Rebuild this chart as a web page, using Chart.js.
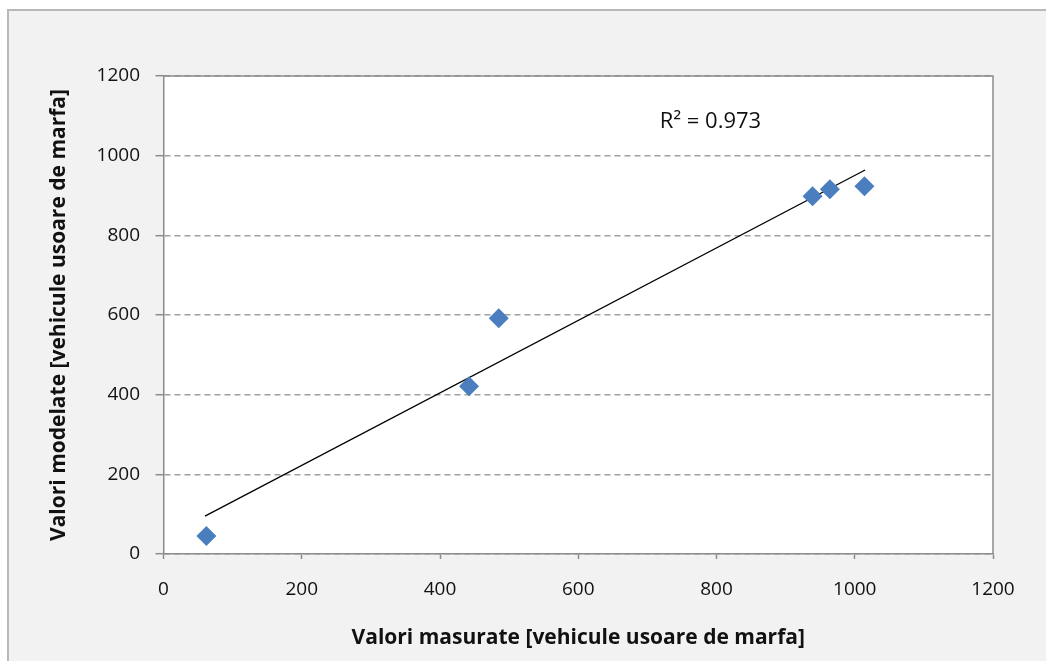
<!DOCTYPE html>
<html>
<head>
<meta charset="utf-8">
<script src="https://cdn.jsdelivr.net/npm/chart.js@4/dist/chart.umd.min.js"></script>
<style>
  html, body { margin: 0; padding: 0; background: #ffffff; }
  #wrap { width: 1046px; height: 661px; position: relative; }
</style>
</head>
<body>
<div id="wrap"><canvas id="c" width="1046" height="661"></canvas></div>
<script>
// ---- Data ----
const measuredX = [62, 442, 485, 939, 964, 1014];
const modelledY = [45, 421, 592, 898, 916, 923];
const trendX = [60, 1015];
const trendY = [95, 964];
const axisMin = 0;
const axisMax = 1200;
const axisStep = 200;
const xTitle = 'Valori masurate [vehicule usoare de marfa]';
const yTitle = 'Valori modelate [vehicule usoare de marfa]';
const r2Label = 'R\u00B2 = 0.973';

const FONT = "'Open Sans', 'Liberation Sans', sans-serif";
const TEXT = '#111111';

const points = measuredX.map((x, i) => ({ x: x, y: modelledY[i] }));
const trend = trendX.map((x, i) => ({ x: x, y: trendY[i] }));

const frame = {
  id: 'frame',
  beforeDraw(chart) {
    const ctx = chart.ctx;
    const a = chart.chartArea;
    ctx.save();
    ctx.fillStyle = '#ffffff';
    ctx.fillRect(0, 0, chart.width, chart.height);
    ctx.fillStyle = '#f2f2f2';
    ctx.fillRect(8, 10, chart.width - 8, chart.height - 10);
    ctx.strokeStyle = '#b8b8b8';
    ctx.lineWidth = 2;
    ctx.beginPath();
    ctx.moveTo(8, chart.height);
    ctx.lineTo(8, 10);
    ctx.lineTo(chart.width, 10);
    ctx.stroke();
    ctx.fillStyle = '#ffffff';
    ctx.fillRect(a.left, a.top, a.right - a.left, a.bottom - a.top);
    ctx.restore();
  },
  afterDraw(chart) {
    const ctx = chart.ctx;
    const a = chart.chartArea;
    ctx.save();
    ctx.strokeStyle = '#8c8c8c';
    ctx.lineWidth = 1.5;
    ctx.beginPath();
    ctx.moveTo(a.left, a.top);
    ctx.lineTo(a.right, a.top);
    ctx.lineTo(a.right, a.bottom);
    ctx.stroke();
    const xs = chart.scales.x, ys = chart.scales.y;
    ctx.fillStyle = TEXT;
    ctx.font = "22px " + FONT;
    ctx.textAlign = 'left';
    ctx.textBaseline = 'middle';
    ctx.fillText(r2Label, xs.getPixelForValue(718), ys.getPixelForValue(1084));
    ctx.restore();
  }
};

const plainTick = (v) => String(v);

new Chart(document.getElementById('c'), {
  type: 'scatter',
  data: {
    datasets: [
      {
        label: 'Trend',
        type: 'line',
        data: trend,
        borderColor: '#000000',
        borderWidth: 1.3,
        pointRadius: 0,
        fill: false,
        order: 2
      },
      {
        label: 'Valori',
        data: points,
        pointStyle: 'rectRot',
        pointRadius: 10,
        pointHoverRadius: 10,
        backgroundColor: '#4a7ebf',
        borderColor: '#4a7ebf',
        borderWidth: 0,
        order: 1
      }
    ]
  },
  options: {
    responsive: false,
    animation: false,
    devicePixelRatio: 1,
    layout: { padding: { left: 0, top: 76, right: 53, bottom: 0 } },
    plugins: {
      legend: { display: false },
      tooltip: { enabled: false },
      title: { display: false }
    },
    scales: {
      x: {
        type: 'linear',
        min: axisMin, max: axisMax,
        afterFit(s) { s.height = 107; },
        ticks: {
          stepSize: axisStep,
          callback: plainTick,
          color: TEXT,
          font: { family: FONT, size: 19 },
          padding: 19,
          maxRotation: 0
        },
        grid: {
          drawOnChartArea: false,
          drawTicks: true,
          tickLength: 5,
          tickColor: '#8c8c8c',
          tickWidth: 1.5
        },
        border: { display: true, color: '#8c8c8c', width: 1.5 },
        title: {
          display: true,
          text: xTitle,
          color: TEXT,
          font: { family: FONT, size: 21, weight: 'bold' },
          padding: { top: 0, bottom: 10.4 }
        }
      },
      y: {
        type: 'linear',
        min: axisMin, max: axisMax,
        afterFit(s) { s.width = 163.5; },
        ticks: {
          stepSize: axisStep,
          callback: plainTick,
          color: TEXT,
          font: { family: FONT, size: 19 },
          padding: 15.5
        },
        grid: {
          drawOnChartArea: true,
          drawTicks: true,
          tickLength: 8,
          color: '#a0a0a0',
          lineWidth: 1.4,
          tickColor: '#8c8c8c',
          tickWidth: 1.5,
          tickBorderDash: []
        },
        border: { display: true, color: '#8c8c8c', width: 1.5, dash: [6, 4] },
        title: {
          display: true,
          text: yTitle,
          color: TEXT,
          font: { family: FONT, size: 21, weight: 'bold' },
          padding: { top: 46.4, bottom: 0 }
        }
      }
    }
  },
  plugins: [frame]
});
</script>
</body>
</html>
